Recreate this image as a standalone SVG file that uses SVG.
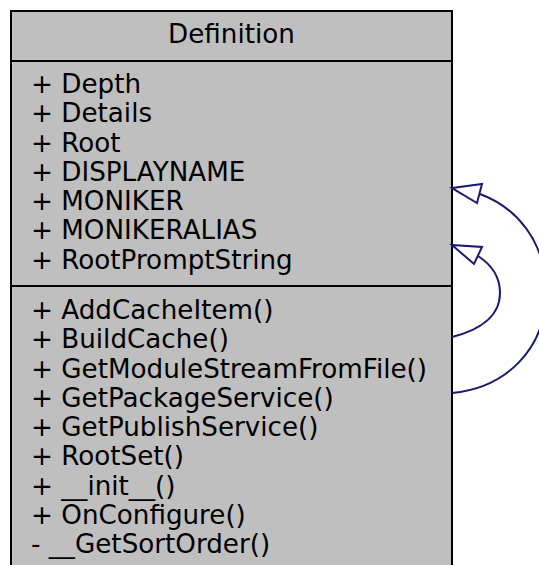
<svg xmlns="http://www.w3.org/2000/svg" width="539" height="565" viewBox="0 0 539 565">
<style>
.box{fill:#bfbfbf;stroke:#000;stroke-width:2}
.sep{stroke:#000;stroke-width:2}
text{font-family:"DejaVu Sans",sans-serif;font-size:26.2px;fill:#000}
.edge{fill:none;stroke:#191970;stroke-width:2}
.head{fill:#fff;stroke:#191970;stroke-width:2}
</style>
<rect width="539" height="565" fill="#fff"/>
<g id="node-Definition">
<rect class="box" x="11" y="11" width="441" height="580"/>
<line class="sep" x1="11" y1="61" x2="452" y2="61"/>
<line class="sep" x1="11" y1="286" x2="452" y2="286"/>
<text x="231.5" y="42.5" text-anchor="middle">Definition</text>
<text x="31" y="93">+ Depth</text>
<text x="31" y="122.25">+ Details</text>
<text x="31" y="151.5">+ Root</text>
<text x="31" y="180.75">+ DISPLAYNAME</text>
<text x="31" y="210">+ MONIKER</text>
<text x="31" y="239.25">+ MONIKERALIAS</text>
<text x="31" y="268.5">+ RootPromptString</text>
<text x="31" y="319">+ AddCacheItem()</text>
<text x="31" y="348.25">+ BuildCache()</text>
<text x="31" y="377.5">+ GetModuleStreamFromFile()</text>
<text x="31" y="406.75">+ GetPackageService()</text>
<text x="31" y="436">+ GetPublishService()</text>
<text x="31" y="465.25">+ RootSet()</text>
<text x="31" y="494.5">+ __init__()</text>
<text x="31" y="523.75">+ OnConfigure()</text>
<text x="31" y="553">- __GetSortOrder()</text>
</g>
<g id="connectors">
<path class="edge" d="M452,337 C480,330 500,316 500,293 C500,276 492,265 478,256"/>
<polygon class="head" points="452,245 482,247 474,264"/>
<path class="edge" d="M452,393 C505,388 546,350 546,292 C546,240 515,207 480,194"/>
<polygon class="head" points="452,188 482,184 477,203"/>
</g>
</svg>
